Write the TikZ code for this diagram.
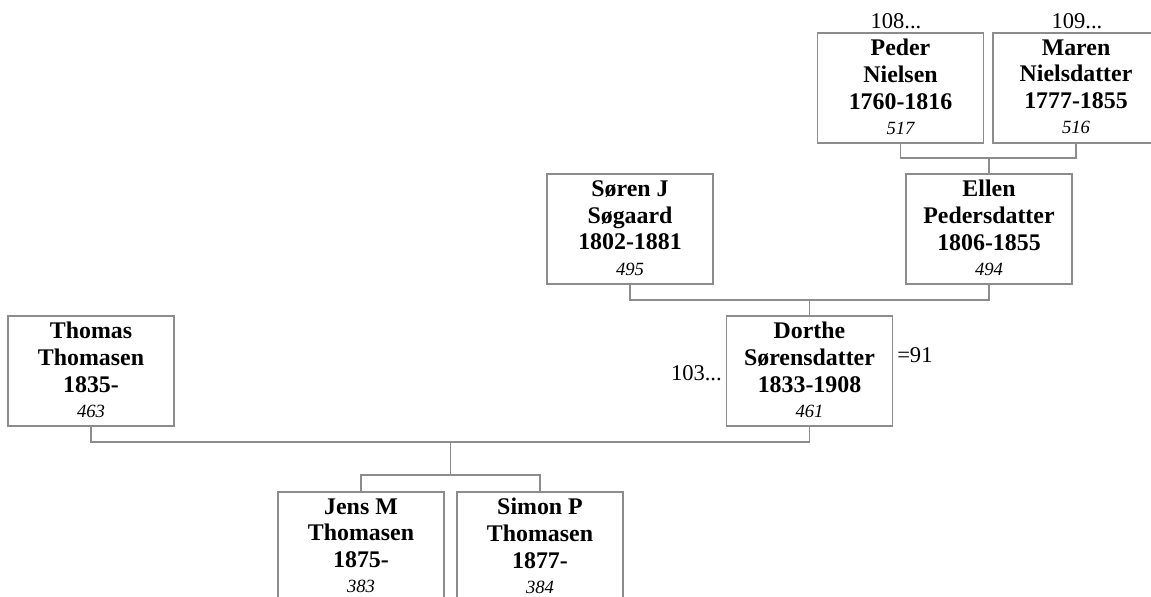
\documentclass[tikz,border=0pt]{standalone}
\usepackage{fontspec}
\setmainfont{Liberation Serif}
\definecolor{boxgray}{RGB}{140,140,140}
\tikzset{
  person/.style={draw=boxgray, line width=0.9pt, minimum width=124.5pt, minimum height=82.5pt,
    inner sep=0pt, align=center, text depth=1.8pt, font=\fontsize{17.9}{20}\selectfont\bfseries},
  conn/.style={draw=boxgray, line width=0.9pt},
  ref/.style={inner sep=0pt, font=\fontsize{16.9}{20}\selectfont},
}
\newcommand{\idno}[1]{{\fontsize{14}{20}\selectfont\mdseries\itshape #1}}
\begin{document}
\begin{tikzpicture}[x=0.75pt,y=-0.75pt]
\useasboundingbox (0,0) rectangle (1151,596);
\clip (0,0) rectangle (1151,596);
\node[person] (peder) at (900.5,88) {Peder\\Nielsen\\1760-1816\\[-1pt]\idno{517}};
\node[person] (maren) at (1076,88) {Maren\\Nielsdatter\\1777-1855\\[-1pt]\idno{516}};
\node[person] (soren) at (630,229) {Søren J\\Søgaard\\1802-1881\\[-1pt]\idno{495}};
\node[person] (ellen) at (989,229) {Ellen\\Pedersdatter\\1806-1855\\[-1pt]\idno{494}};
\node[person] (thomas) at (91,371) {Thomas\\Thomasen\\1835-\\[-1pt]\idno{463}};
\node[person] (dorthe) at (809.5,371) {Dorthe\\Sørensdatter\\1833-1908\\[-1pt]\idno{461}};
\node[person] (jens) at (361,547) {Jens M\\Thomasen\\1875-\\[-1pt]\idno{383}};
\node[person] (simon) at (540,547) {Simon P\\Thomasen\\1877-\\[-1pt]\idno{384}};
\node[ref] (r108) at (896,21) {108...};
\node[ref] (r109) at (1077,21) {109...};
\node[ref, anchor=east] (r103) at (722,373) {103...};
\node[ref, anchor=west] (r91) at (897,355) {=91};
% connectors
\draw[conn] (peder.south) -- (peder.south |- 0,158) -| (maren.south);
\draw[conn] (ellen.north) -- (ellen.north |- 0,158);
\draw[conn] (soren.south) -- (soren.south |- 0,300) -| (ellen.south);
\draw[conn] (dorthe.north) -- (dorthe.north |- 0,300);
\draw[conn] (thomas.south) -- (thomas.south |- 0,442) -| (dorthe.south);
\coordinate (fam) at (450.5,442);
\draw[conn] (fam) -- (450.5,475);
\draw[conn] (jens.north) -- (jens.north |- 0,475) -| (simon.north);
\end{tikzpicture}
\end{document}
